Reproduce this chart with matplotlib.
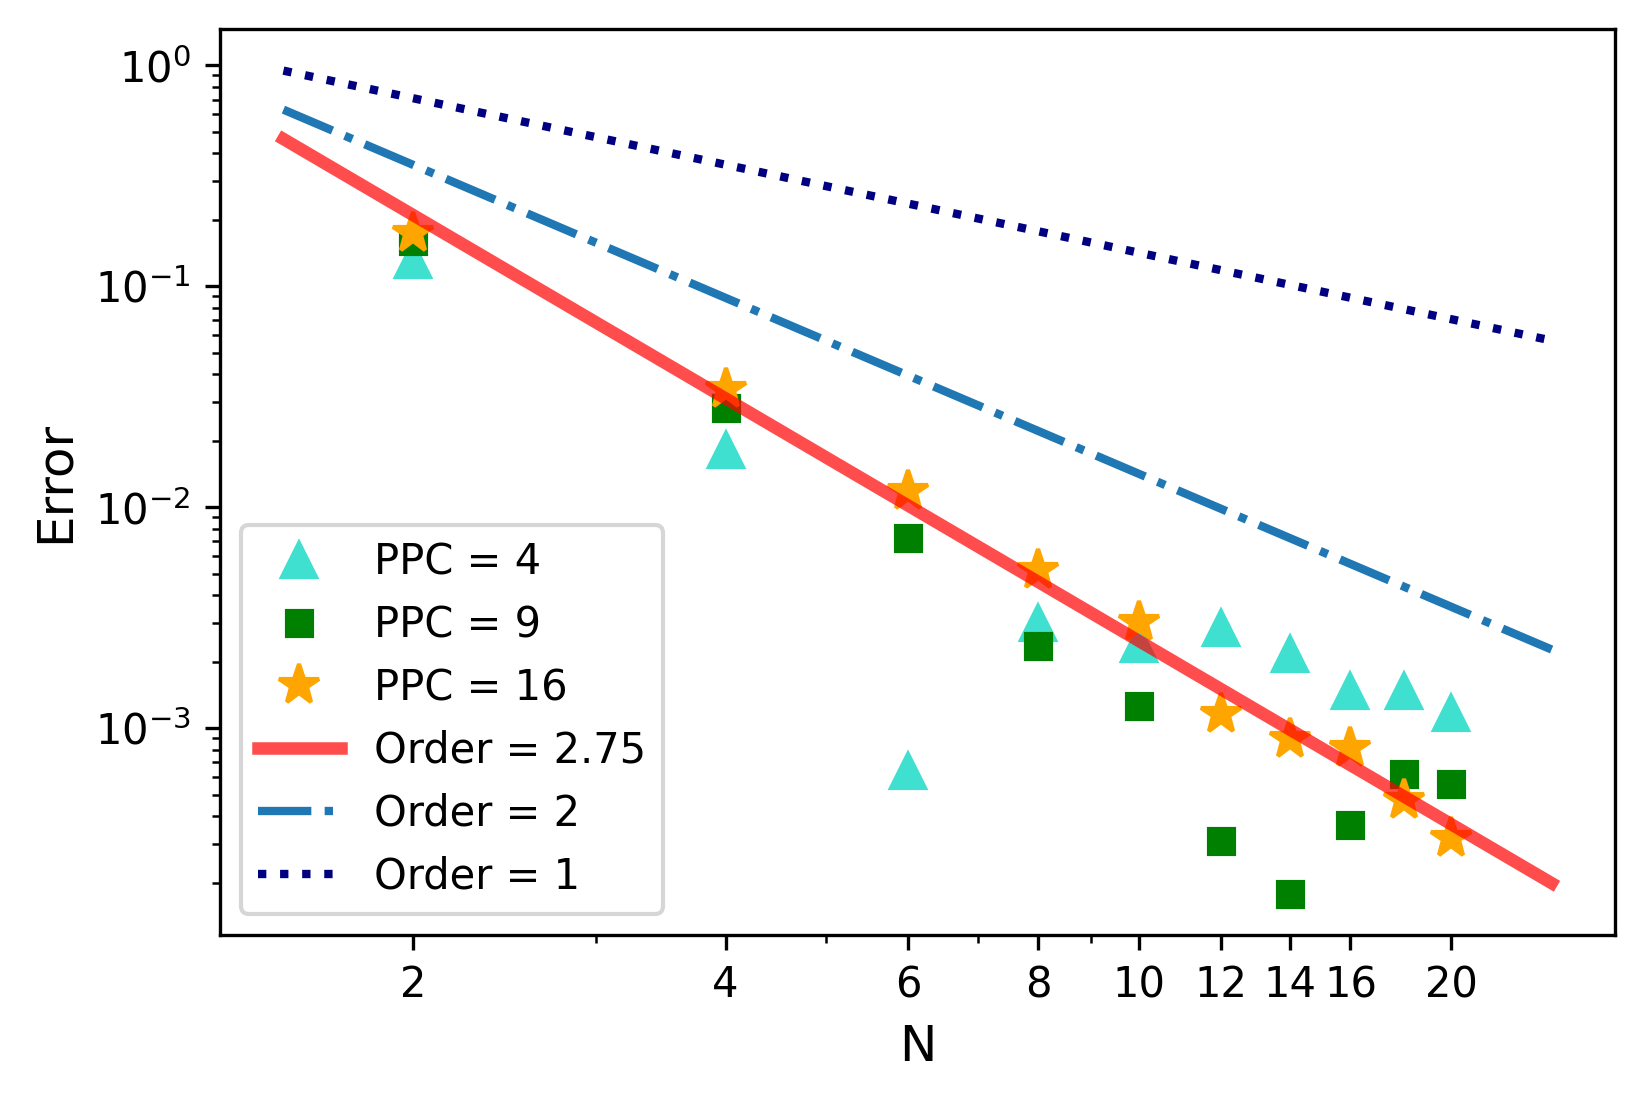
import matplotlib
matplotlib.use('Agg')
import matplotlib.pyplot as plt
from matplotlib.ticker import NullFormatter

# ---- data ----
N = [2, 4, 6, 8, 10, 12, 14, 16, 18, 20]
err_ppc4 = [0.131, 0.0181, 6.37e-4, 2.98e-3, 2.40e-3, 2.83e-3, 2.16e-3, 1.47e-3, 1.47e-3, 1.17e-3]
err_ppc9 = [0.161, 0.0282, 7.27e-3, 2.36e-3, 1.26e-3, 3.09e-4, 1.78e-4, 3.66e-4, 6.22e-4, 5.6e-4]
err_ppc16 = [0.175, 0.0344, 0.0118, 5.19e-3, 3.03e-3, 1.16e-3, 8.98e-4, 8.12e-4, 4.72e-4, 3.2e-4]

ref_N = [1.5, 25]
ref_order275 = [0.464, 1.99e-4]
ref_order2 = [0.63, 2.27e-3]
ref_order1 = [0.946, 0.0568]

xtick_values = [2, 4, 6, 8, 10, 12, 14, 16, 20]
xtick_labels = [str(v) for v in xtick_values]

labels = ["PPC = 4", "PPC = 9", "PPC = 16", "Order = 2.75", "Order = 2", "Order = 1"]

fig = plt.figure(figsize=(5.4801, 3.6701), dpi=300)
ax = fig.add_axes([220 / 1644, 1 - 935 / 1101, (1615 - 220) / 1644, (935 - 29.5) / 1101])

ax.plot(N, err_ppc4, linestyle='none', marker='^', color='turquoise', markersize=8, label=labels[0])
ax.plot(N, err_ppc9, linestyle='none', marker='s', color='green', markersize=6, label=labels[1])
ax.plot(N, err_ppc16, linestyle='none', marker='*', color='orange', markersize=10, label=labels[2])
ax.plot(ref_N, ref_order275, '-', color='red', alpha=0.7, linewidth=3, label=labels[3])
ax.plot(ref_N, ref_order2, '-.', color='#1f77b4', linewidth=2, label=labels[4])
ax.plot(ref_N, ref_order1, ':', color='navy', linewidth=2, label=labels[5])

ax.set_xscale('log')
ax.set_yscale('log')
ax.set_xticks(xtick_values)
ax.set_xticklabels(xtick_labels)
ax.xaxis.set_minor_formatter(NullFormatter())

ax.set_xlabel('N', fontsize=12)
ax.set_ylabel('Error', fontsize=12)
ax.legend(loc='lower left')

fig.savefig('out.png', dpi=300)
